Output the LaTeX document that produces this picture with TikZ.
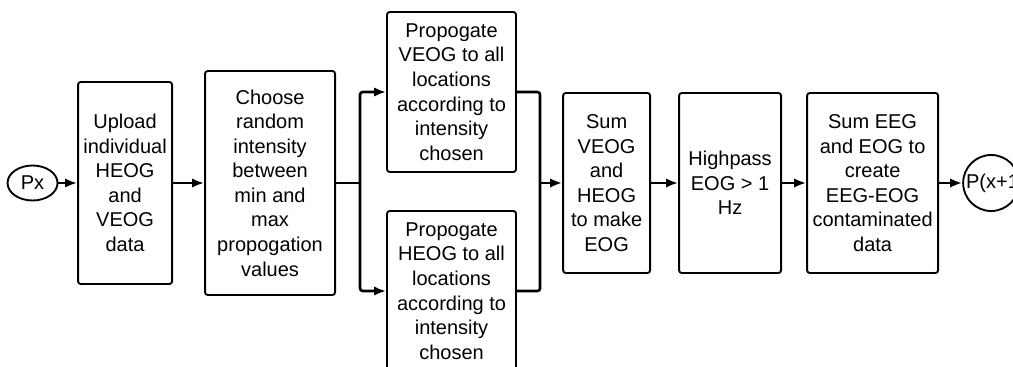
\documentclass[tikz,border=0pt]{standalone}
\usepackage{fontspec}
\setmainfont{Liberation Sans}
\usetikzlibrary{positioning,shapes,arrows.meta}
\tikzstyle{block} = [draw, rectangle, rounded corners=2pt, line width=1.4pt, align=center, inner sep=0pt, font=\fontsize{15}{18.4}\selectfont]
\tikzstyle{term} = [draw, ellipse, line width=1.4pt, inner sep=0pt, font=\fontsize{15}{18.4}\selectfont]
\tikzstyle{coord} = [coordinate]

\begin{document}
\begin{tikzpicture}[->,node distance=3cm,>={Latex[length=9pt,width=7pt]},line width=2pt]
		\useasboundingbox (0,0) rectangle (759.75pt,-275.25pt);
		\node (px) [term, minimum width=37.5pt, minimum height=26.25pt] at (24.4pt,-137.25pt) {Px};
		\node (up) [block, right of=px, node distance=69.4pt, minimum width=70.5pt, minimum height=151.5pt] {Upload\\individual\\HEOG\\and\\VEOG\\data};
		\node (choose) [block, right of=up, node distance=108.75pt, minimum width=97.5pt, minimum height=168pt] {Choose\\random\\intensity\\between\\min and\\max\\propogation\\values};
		\node (split) [coord, right of=choose, node distance=67.5pt] {};
		\node (mid) [coord, right of=split, node distance=68.6pt] {};
		\node (veog) [block, above of=mid, node distance=68.25pt, minimum width=96.75pt, minimum height=120pt] {Propogate\\VEOG to all\\locations\\according to\\intensity\\chosen};
		\node (heog) [block, below of=mid, node distance=81pt, minimum width=96.75pt, minimum height=120pt] {Propogate\\HEOG to all\\locations\\according to\\intensity\\chosen};
		\node (merge) [coord, right of=mid, node distance=66.4pt] {};
		\node (sum) [block, right of=merge, node distance=49.9pt, minimum width=65.25pt, minimum height=135pt] {Sum\\VEOG\\and\\HEOG\\to make\\EOG};
		\node (high) [block, right of=sum, node distance=92.6pt, minimum width=76.5pt, minimum height=135pt] {Highpass\\EOG > 1\\Hz};
		\node (eeg) [block, right of=high, node distance=106.9pt, minimum width=98.25pt, minimum height=135pt] {Sum EEG\\and EOG to\\create\\EEG-EOG\\contaminated\\data};
		\node (pout) [term, right of=eeg, node distance=88.9pt, minimum width=42pt, minimum height=42pt] {\makebox[0pt]{\hspace{7pt}P(x+1)}};

		\draw (px) -- (up);
		\draw (up) -- (choose);
		\draw [-] (choose) -- (split);
		\draw [rounded corners=2pt] (split) |- (veog);
		\draw [rounded corners=2pt] (split) |- (heog);
		\draw [-, rounded corners=2pt] (veog) -| (merge);
		\draw [-, rounded corners=2pt] (heog) -| (merge);
		\draw (merge) -- (sum);
		\draw (sum) -- (high);
		\draw (high) -- (eeg);
		\draw (eeg) -- (pout);
	\end{tikzpicture}
\end{document}
